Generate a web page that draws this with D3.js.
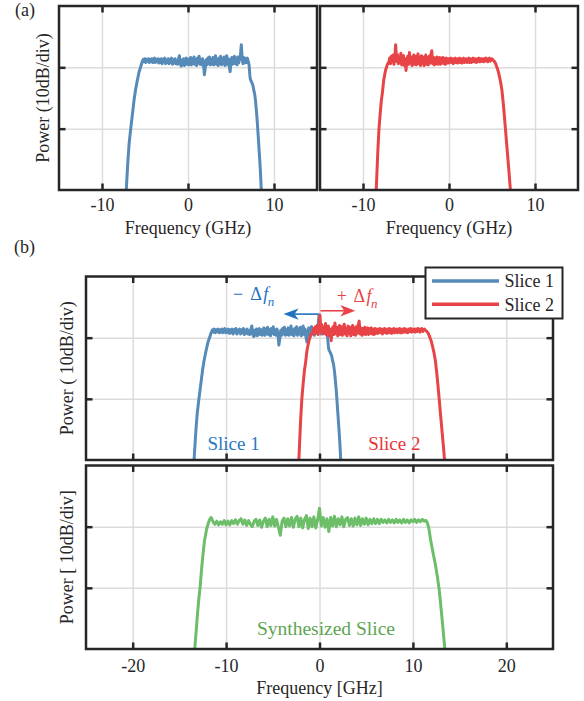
<!DOCTYPE html>
<html>
<head>
<meta charset="utf-8">
<script src="https://cdn.jsdelivr.net/npm/d3@7"></script>
<style>
  html, body { margin: 0; padding: 0; background: #fff; }
  svg { display: block; }
</style>
</head>
<body>
<svg id="fig" width="584" height="701"></svg>
<script>
// ---------------------------------------------------------------
// Spectra, power in units of 10 dB divisions (0 = bottom of axes)
// ---------------------------------------------------------------

// Slice 1 at baseband: rising edge [GHz, div], flat top on a 0.1 GHz grid, falling edge
const slice1Rise = [[-7.18,0],[-7.08,0.25],[-6.98,0.49],[-6.85,0.75],[-6.66,1.0],[-6.45,1.25],
  [-6.27,1.47],[-6.08,1.65],[-5.89,1.79],[-5.7,1.92],[-5.5,2.01],[-5.35,2.08]];
const slice1FlatStart = -5.2;
const slice1FlatStep = 0.1;
const slice1Flat = [
  2.13,2.09,2.14,2.08,2.13,2.10,2.14,2.08,2.13,2.09,
  2.14,2.08,2.12,2.15,2.08,2.13,2.09,2.14,2.07,2.13,
  2.08,2.14,2.06,2.13,2.09,2.15,2.06,2.12,2.08,2.14,
  2.06,2.13,2.08,2.15,2.05,2.12,2.07,2.14,2.06,2.11,
  2.05,2.14,2.19,2.07,2.02,2.12,2.04,2.14,2.03,2.12,
  2.15,2.05,2.13,2.04,2.12,2.16,2.04,2.14,2.06,2.17,
  2.05,2.13,2.03,2.15,2.07,2.18,2.05,2.13,2.04,2.14,
  2.06,1.88,1.98,2.12,2.04,2.15,2.06,2.17,2.04,2.13,
  2.05,2.16,2.04,2.14,2.19,2.05,2.13,2.03,2.15,2.06,
  2.18,2.04,2.14,2.06,2.17,2.03,2.13,2.19,2.05,2.14,
  2.01,1.93,2.10,2.16,2.05,2.14,2.18,2.06,2.15,2.04,
  2.17,2.07,2.15,2.20,2.37,2.13,2.06,2.16,2.07,2.14,
  2.08,2.15,2.10];
const slice1Fall = [[7.1,2.04],[7.2,1.86],[7.26,1.80],[7.4,1.76],[7.56,1.70],[7.66,1.62],[7.76,1.56],
  [7.86,1.44],[7.95,1.30],[8.05,1.12],[8.14,0.93],[8.24,0.71],[8.34,0.49],[8.44,0.25],[8.52,0]];

// Slice 2 at baseband
const slice2Rise = [[-8.46,0],[-8.36,0.35],[-8.26,0.68],[-8.14,1.0],[-8.0,1.25],[-7.86,1.47],
  [-7.75,1.58],[-7.59,1.79],[-7.45,1.90],[-7.36,1.96],[-7.2,2.03],[-7.09,2.07]];
const slice2FlatStart = -7.0;
const slice2FlatStep = 0.1;
const slice2Flat = [
  2.07,2.15,2.06,2.18,2.09,2.20,2.05,2.16,2.37,2.10,
  2.21,2.06,2.17,2.07,2.23,2.04,2.16,2.19,2.03,2.14,
  1.95,2.12,2.18,2.05,2.24,2.07,2.17,2.03,2.15,2.20,
  2.05,2.18,2.04,2.16,2.22,2.06,2.15,2.03,2.19,2.07,
  2.17,2.03,2.14,2.20,2.05,2.16,2.04,2.18,2.07,2.21,
  2.27,2.06,2.16,2.04,2.15,2.06,2.17,2.05,2.14,2.16,
  2.05,2.15,2.07,2.16,2.06,2.14,2.05,2.15,2.07,2.14,
  2.07,2.14,2.15,2.08,2.14,2.06,2.13,2.15,2.08,2.14,
  2.07,2.13,2.15,2.08,2.14,2.07,2.13,2.15,2.08,2.13,
  2.14,2.08,2.13,2.15,2.08,2.14,2.08,2.13,2.15,2.09,
  2.14,2.09,2.08,2.14,2.10,2.15,2.09,2.14,2.10,2.14,
  2.09,2.14,2.10,2.15,2.13,2.09,2.14,2.15,2.10,2.13,
  2.14,2.12];
const slice2Fall = [[5.25,2.10],[5.4,2.07],[5.55,2.01],[5.7,1.95],[5.85,1.86],[6.0,1.76],[6.16,1.62],
  [6.3,1.43],[6.42,1.24],[6.55,1.02],[6.7,0.76],[6.86,0.49],[7.0,0.25],[7.14,0]];

// Synthesized slice, flat top on a 0.2 GHz grid
const synthRise = [[-13.36,0],[-13.2,0.3],[-13.05,0.6],[-12.9,0.85],[-12.79,1.0],[-12.6,1.35],
  [-12.45,1.58],[-12.32,1.76],[-12.1,1.95],[-11.9,2.06],[-11.75,2.12]];
const synthFlatStart = -11.6;
const synthFlatStep = 0.2;
const synthFlat = [
  2.15,2.08,2.04,2.09,2.03,2.08,2.04,2.10,2.03,2.09,
  2.03,2.10,2.05,2.11,2.04,2.10,2.13,2.04,2.11,2.02,
  2.10,2.04,2.00,2.09,2.12,2.02,2.11,1.99,2.09,2.14,
  2.00,2.12,2.02,2.16,2.01,2.12,1.99,1.86,2.09,2.14,
  2.00,2.13,2.01,2.15,1.99,2.12,2.17,2.00,2.14,1.98,
  2.12,2.18,1.97,2.14,2.00,2.16,1.98,2.11,2.30,2.01,
  2.15,1.99,2.13,1.92,2.15,2.01,2.17,2.00,2.13,2.03,
  2.16,2.00,2.12,2.15,2.02,2.13,2.01,2.14,2.03,2.16,
  2.02,2.13,2.04,2.14,2.03,2.12,2.05,2.13,2.05,2.12,
  2.05,2.12,2.07,2.11,2.06,2.12,2.07,2.11,2.06,2.12,
  2.07,2.11,2.06,2.12,2.07,2.11,2.06,2.11,2.08,2.12,
  2.07,2.11,2.08,2.12,2.09,2.10];
const synthFall = [[11.55,2.06],[11.7,1.98],[11.9,1.78],[12.1,1.62],[12.25,1.50],[12.43,1.36],
  [12.62,1.18],[12.8,0.99],[12.98,0.72],[13.15,0.45],[13.3,0.2],[13.42,0]];

// Frequency shift applied to each slice before synthesis (GHz)
const sliceShift = 6.25;

// Axes
const powerDomain = [0, 3];
const powerTicks = [1, 2];
const xDomainA = [-15, 15];
const xTicksA = [-10, 0, 10];
const xDomainB = [-25, 25];
const xTicksB = [-20, -10, 0, 10, 20];
const legendLabels = ["Slice 1", "Slice 2"];

// ---------------------------------------------------------------
const FONT = '"Liberation Serif","Times New Roman",Times,serif';
const INK = "#262626";
const GRID = "#dcdcdc";
const C1 = "#568ab8", C2 = "#e84448", C3 = "#6cbe69";
const T1 = "#2a78bf", T2 = "#e8333a", T3 = "#5ea552";

function buildTrace(rise, start, step, flat, fall, shift) {
  const pts = rise.slice();
  flat.forEach((p, i) => pts.push([start + i * step, p]));
  fall.forEach(d => pts.push(d));
  return pts.map(([f, p]) => [f + (shift || 0), p]);
}

const s1 = buildTrace(slice1Rise, slice1FlatStart, slice1FlatStep, slice1Flat, slice1Fall, 0);
const s2 = buildTrace(slice2Rise, slice2FlatStart, slice2FlatStep, slice2Flat, slice2Fall, 0);
const s1Shifted = buildTrace(slice1Rise, slice1FlatStart, slice1FlatStep, slice1Flat, slice1Fall, -sliceShift);
const s2Shifted = buildTrace(slice2Rise, slice2FlatStart, slice2FlatStep, slice2Flat, slice2Fall, sliceShift);
const synth = buildTrace(synthRise, synthFlatStart, synthFlatStep, synthFlat, synthFall, 0);

const svg = d3.select("#fig").attr("font-family", FONT);
let clipCount = 0;

function drawPanel(cfg) {
  const [l, t, r, b] = cfg.box;
  const x = d3.scaleLinear().domain(cfg.xDomain).range([l, r]);
  const y = d3.scaleLinear().domain(powerDomain).range([b, t]);
  const g = svg.append("g");
  const clipId = "clip" + (clipCount++);
  g.append("clipPath").attr("id", clipId)
    .append("rect").attr("x", l).attr("y", t).attr("width", r - l).attr("height", b - t);

  // grid
  g.append("g").attr("transform", `translate(0,${b})`)
    .call(d3.axisBottom(x).tickValues(cfg.xTicks).tickSize(-(b - t)).tickFormat(""))
    .call(s => s.select(".domain").remove())
    .selectAll("line").attr("stroke", GRID).attr("stroke-width", 1.5);
  g.append("g").attr("transform", `translate(${l},0)`)
    .call(d3.axisLeft(y).tickValues(powerTicks).tickSize(-(r - l)).tickFormat(""))
    .call(s => s.select(".domain").remove())
    .selectAll("line").attr("stroke", GRID).attr("stroke-width", 1.5);

  // traces
  const line = d3.line().x(d => x(d[0])).y(d => y(d[1]));
  const tg = g.append("g").attr("clip-path", `url(#${clipId})`);
  cfg.traces.forEach(tr => {
    tg.append("path").datum(tr.data)
      .attr("d", line)
      .attr("fill", "none")
      .attr("stroke", tr.color)
      .attr("stroke-width", 3)
      .attr("stroke-linejoin", "round");
  });

  // box
  g.append("rect").attr("x", l).attr("y", t).attr("width", r - l).attr("height", b - t)
    .attr("fill", "none").attr("stroke", INK).attr("stroke-width", 2.5);

  // inward ticks on all four sides
  const styleTicks = s => {
    s.select(".domain").remove();
    s.selectAll("line").attr("stroke", INK).attr("stroke-width", 2.5);
  };
  const bottom = g.append("g").attr("transform", `translate(0,${b})`)
    .call(d3.axisBottom(x).tickValues(cfg.xTicks).tickSizeInner(-6.5).tickSizeOuter(0)
      .tickFormat(cfg.showXLabels ? (d => String(d)) : ""))
    .call(styleTicks);
  bottom.attr("font-family", FONT).attr("font-size", 18);
  bottom.selectAll("text").attr("y", cfg.tickLabelOffset).attr("dy", null).attr("fill", INK);
  g.append("g").attr("transform", `translate(0,${t})`)
    .call(d3.axisTop(x).tickValues(cfg.xTicks).tickSizeInner(-6.5).tickSizeOuter(0).tickFormat(""))
    .call(styleTicks);
  g.append("g").attr("transform", `translate(${l},0)`)
    .call(d3.axisLeft(y).tickValues(powerTicks).tickSizeInner(-6.5).tickSizeOuter(0).tickFormat(""))
    .call(styleTicks);
  g.append("g").attr("transform", `translate(${r},0)`)
    .call(d3.axisRight(y).tickValues(powerTicks).tickSizeInner(-6.5).tickSizeOuter(0).tickFormat(""))
    .call(styleTicks);

  if (cfg.xLabel) {
    svg.append("text").attr("x", (l + r) / 2).attr("y", cfg.xLabelBaseline)
      .attr("text-anchor", "middle").attr("font-size", 18).attr("fill", INK)
      .text(cfg.xLabel);
  }
  if (cfg.yLabel) {
    svg.append("text")
      .attr("transform", `translate(${cfg.yLabelX},${(t + b) / 2}) rotate(-90)`)
      .attr("text-anchor", "middle").attr("font-size", 18).attr("fill", INK)
      .text(cfg.yLabel);
  }
  return { x, y, g };
}

// (a) individual slices
drawPanel({
  box: [59, 6, 317, 190], xDomain: xDomainA, xTicks: xTicksA,
  traces: [{ data: s1, color: C1 }],
  showXLabels: true, tickLabelOffset: 21, xLabel: "Frequency (GHz)", xLabelBaseline: 234,
  yLabel: "Power (10dB/div)", yLabelX: 48.5
});
drawPanel({
  box: [320, 6, 578, 190], xDomain: xDomainA, xTicks: xTicksA,
  traces: [{ data: s2, color: C2 }],
  showXLabels: true, tickLabelOffset: 21, xLabel: "Frequency (GHz)", xLabelBaseline: 234
});

// (b) shifted slices and their synthesis
const pb1 = drawPanel({
  box: [86, 276.5, 553, 460], xDomain: xDomainB, xTicks: xTicksB,
  traces: [{ data: s1Shifted, color: C1 }, { data: s2Shifted, color: C2 }],
  showXLabels: false, yLabel: "Power ( 10dB/div)", yLabelX: 72.7
});
const pb2 = drawPanel({
  box: [86, 465.5, 553, 649], xDomain: xDomainB, xTicks: xTicksB,
  traces: [{ data: synth, color: C3 }],
  showXLabels: true, tickLabelOffset: 22.7, xLabel: "Frequency [GHz]", xLabelBaseline: 694,
  yLabel: "Power [ 10dB/div]", yLabelX: 72.7
});

// panel tags
svg.append("text").attr("x", 15).attr("y", 15.5).attr("font-size", 18).attr("fill", INK).text("(a)");
svg.append("text").attr("x", 14).attr("y", 253).attr("font-size", 18).attr("fill", INK).text("(b)");

// shift arrows and Δf labels
{
  const { x, y } = pb1;
  const arrow = (fTip, level, color, dir) => {
    const xt = x(fTip), yt = y(level), x0 = x(0);
    svg.append("line").attr("x1", x0 + dir * 1).attr("x2", xt - dir * 11).attr("y1", yt).attr("y2", yt)
      .attr("stroke", color).attr("stroke-width", 1.6);
    svg.append("path")
      .attr("d", `M${xt},${yt} L${xt - dir * 15},${yt - 5.7} L${xt - dir * 11},${yt} L${xt - dir * 15},${yt + 5.7} Z`)
      .attr("fill", color);
  };
  arrow(-sliceShift + 2.4, 2.385, "#1f72bf", -1);
  arrow(sliceShift - 2.42, 2.44, C2, 1);

  const deltaLabel = (f, level, sign, color, gap) => {
    const t = svg.append("text").attr("x", x(f)).attr("y", y(level))
      .attr("font-size", 18).attr("fill", color);
    t.append("tspan").text(sign);
    t.append("tspan").attr("dx", gap).text("Δ");
    t.append("tspan").attr("dx", 1.5).attr("font-style", "italic").text("f");
    t.append("tspan").attr("dx", -0.5).attr("dy", 6).attr("font-style", "italic")
      .attr("font-size", 13).text("n");
  };
  deltaLabel(-9.25, 2.62, "−", "#1f72bf", 7);
  deltaLabel(1.86, 2.58, "+", C2, 6.5);

  svg.append("text").attr("x", x(-12.0)).attr("y", y(0.164)).attr("font-size", 19)
    .attr("fill", T1).text("Slice 1");
  svg.append("text").attr("x", x(5.22)).attr("y", y(0.164)).attr("font-size", 19)
    .attr("fill", T2).text("Slice 2");
}
svg.append("text").attr("x", pb2.x(0.69)).attr("y", pb2.y(0.23)).attr("text-anchor", "middle")
  .attr("font-size", 19.5).attr("fill", T3).text("Synthesized Slice");

// legend
{
  const lg = svg.append("g");
  lg.append("rect").attr("x", 425.5).attr("y", 267.5).attr("width", 137).attr("height", 51)
    .attr("fill", "#fff").attr("stroke", INK).attr("stroke-width", 2);
  const colors = [C1, C2];
  legendLabels.forEach((name, i) => {
    const yy = 281 + i * 23.3;
    lg.append("line").attr("x1", 432).attr("x2", 499).attr("y1", yy).attr("y2", yy)
      .attr("stroke", colors[i]).attr("stroke-width", 3.5);
    lg.append("text").attr("x", 504.5).attr("y", yy + 6.2).attr("font-size", 18)
      .attr("fill", INK).text(name);
  });
}
</script>
</body>
</html>
